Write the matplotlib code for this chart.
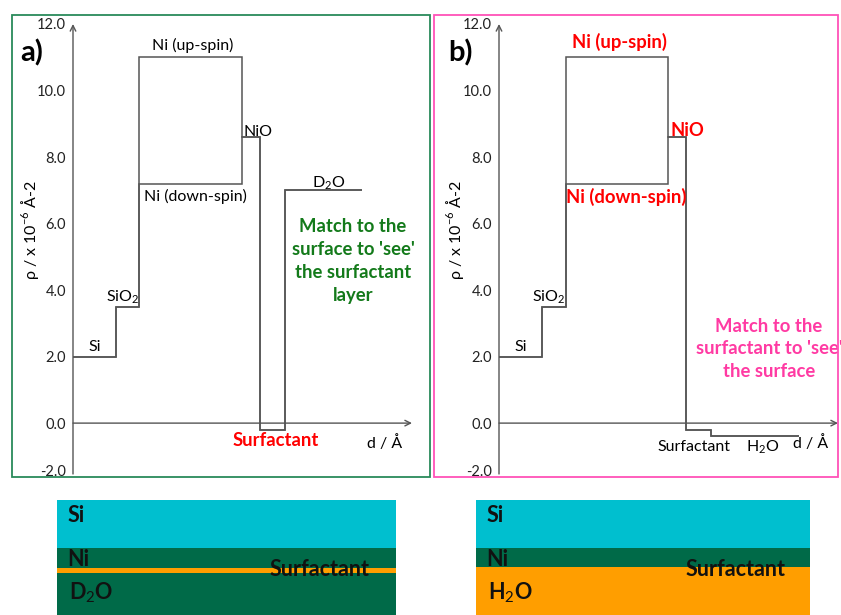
import matplotlib
matplotlib.use("Agg")
import matplotlib.pyplot as plt
from matplotlib.patches import Rectangle

plt.rcParams['font.family'] = ['Lato', 'DejaVu Sans']
plt.rcParams['mathtext.fontset'] = 'custom'
plt.rcParams['mathtext.rm'] = 'Lato'
plt.rcParams['mathtext.bf'] = 'Lato:bold'

W, H = 841, 615

# SLD profiles (x10^-6 A^-2) over layer boundaries (arbitrary depth units)
edges_a = [0, 43, 66, 169, 187, 212, 289]
sld_up_a = [2.0, 3.5, 11.0, 8.6, -0.2, 7.0]
sld_down_a = [2.0, 3.5, 7.2, 8.6, -0.2, 7.0]

edges_b = [0, 43, 67, 169, 187, 212, 300]
sld_up_b = [2.0, 3.5, 11.0, 8.6, -0.2, -0.4]
sld_down_b = [2.0, 3.5, 7.2, 8.6, -0.2, -0.4]

ytick_vals = [-2.0, 0.0, 2.0, 4.0, 6.0, 8.0, 10.0, 12.0]

# layer stacks for the cartoons underneath
layers = ['Si', 'Ni', 'Surfactant', 'D$_2$O']
thick_a = [48, 20, 5, 42]
colors_a = ['#00bfcf', '#006a48', '#ff9e00', '#006a48']
layers_b = ['Si', 'Ni', 'Surfactant', 'H$_2$O']
thick_b = [48, 19, 5, 43]
colors_b = ['#00bfcf', '#006a48', '#ff9e00', '#ff9e00']

LINE = '#555555'
GREEN_TXT = '#137a1a'
PINK = '#ff3aa3'
FS = 11.5      # plain labels
FSB = 13.3     # bold coloured labels

fig = plt.figure(figsize=(W / 100, H / 100), dpi=100)


def px_axes(x0, y0, x1, y1):
    return fig.add_axes([x0 / W, 1 - y1 / H, (x1 - x0) / W, (y1 - y0) / H])


# panel frames
fig.add_artist(Rectangle((12 / W, 1 - 477 / H), (430 - 12) / W, (477 - 15) / H,
                         transform=fig.transFigure, fill=False,
                         edgecolor='#2a8a5a', lw=1.3))
fig.add_artist(Rectangle((434 / W, 1 - 477 / H), (838 - 434) / W, (477 - 15) / H,
                         transform=fig.transFigure, fill=False,
                         edgecolor='#ff52b8', lw=1.3))

ymin, ymax = -1.53, 12.06


def profile_axes(x0, edges, up, down):
    ax = px_axes(x0, 22, x0 + 342, 474)
    ax.set_xlim(0, 342)
    ax.set_ylim(ymin, ymax)
    for s in ax.spines.values():
        s.set_visible(False)
    ax.stairs(up, edges, baseline=None, color=LINE, lw=1.1)
    ax.stairs(down, edges, baseline=None, color=LINE, lw=1.1)
    ax.annotate('', xy=(0, 12.0), xytext=(0, ymin),
                arrowprops=dict(arrowstyle='->', color=LINE, lw=1.0,
                                shrinkA=0, shrinkB=0))
    ax.annotate('', xy=(339, 0), xytext=(0, 0),
                arrowprops=dict(arrowstyle='->', color=LINE, lw=1.0,
                                shrinkA=0, shrinkB=0))
    pos = [max(v, ymin + 0.12) for v in ytick_vals]
    ax.set_yticks(pos)
    ax.set_yticklabels(['%.1f' % v for v in ytick_vals], fontsize=10.5,
                       color='#222222')
    ax.tick_params(axis='y', length=0, pad=5)
    ax.set_xticks([])
    ax.text(312, -0.6, 'd / Å', ha='center', va='center', fontsize=FS)
    return ax


ax1 = profile_axes(73, edges_a, sld_up_a, sld_down_a)
ax1.text(120, 11.34, 'Ni (up-spin)', ha='center', va='center', fontsize=FS)
ax1.text(185, 8.75, 'NiO', ha='center', va='center', fontsize=FS)
ax1.text(122, 6.8, 'Ni (down-spin)', ha='center', va='center', fontsize=FS)
ax1.text(256, 7.22, 'D$_2$O', ha='center', va='center', fontsize=FS)
ax1.text(50, 3.79, 'SiO$_2$', ha='center', va='center', fontsize=FS)
ax1.text(22, 2.29, 'Si', ha='center', va='center', fontsize=FS)
ax1.text(203, -0.51, 'Surfactant', ha='center', va='center', fontsize=FSB,
         color='red', fontweight='bold')
ax1.text(280, 4.87, "Match to the\nsurface to 'see'\nthe surfactant\nlayer",
         ha='center', va='center', fontsize=FSB, color=GREEN_TXT,
         fontweight='bold', linespacing=1.42)

ax2 = profile_axes(499, edges_b, sld_up_b, sld_down_b)
ax2.text(120, 11.46, 'Ni (up-spin)', ha='center', va='center', fontsize=FSB,
         color='red', fontweight='bold')
ax2.text(188, 8.81, 'NiO', ha='center', va='center', fontsize=FSB,
         color='red', fontweight='bold')
ax2.text(127, 6.8, 'Ni (down-spin)', ha='center', va='center', fontsize=FSB,
         color='red', fontweight='bold')
ax2.text(50, 3.79, 'SiO$_2$', ha='center', va='center', fontsize=FS)
ax2.text(22, 2.29, 'Si', ha='center', va='center', fontsize=FS)
ax2.text(195, -0.72, 'Surfactant', ha='center', va='center', fontsize=FS)
ax2.text(264, -0.72, 'H$_2$O', ha='center', va='center', fontsize=FS)
ax2.text(270, 2.23, "Match to the\nsurfactant to 'see'\nthe surface",
         ha='center', va='center', fontsize=FSB, color=PINK,
         fontweight='bold', linespacing=1.42, clip_on=False)

ylab = 'ρ / x 10$^{-6}$ Å-2'
fig.text(30 / W, 1 - 230 / H, ylab, rotation=90, ha='center', va='center',
         fontsize=FS)
fig.text(455 / W, 1 - 230 / H, ylab, rotation=90, ha='center', va='center',
         fontsize=FS)
fig.text(32 / W, 1 - 53 / H, 'a)', ha='center', va='center', fontsize=21,
         fontweight='bold')
fig.text(460 / W, 1 - 53 / H, 'b)', ha='center', va='center', fontsize=21,
         fontweight='bold')


def layer_axes(x0, x1, names, thick, cols):
    ax = px_axes(x0, 500, x1, 615)
    bottom = 0
    for name, t, c in zip(names, thick, cols):
        ax.bar(0, t, bottom=bottom, width=1, color=c, edgecolor='none')
        bottom += t
    ax.set_xlim(-0.5, 0.5)
    ax.set_ylim(bottom, 0)
    ax.axis('off')
    return ax


bx1 = layer_axes(57, 396, layers, thick_a, colors_a)
bx2 = layer_axes(476, 810, layers_b, thick_b, colors_b)
for bx, last in ((bx1, 'D$_2$O'), (bx2, 'H$_2$O')):
    kw = dict(fontsize=15.5, fontweight='bold', va='center', ha='left',
              color='#111111')
    bx.text(-0.47, 15, 'Si', **kw)
    bx.text(-0.47, 59, 'Ni', **kw)
    bx.text(0.128, 70, 'Surfactant', **kw)
    bx.text(-0.465, 93, last, **kw)

fig.savefig('out.png', dpi=100)
